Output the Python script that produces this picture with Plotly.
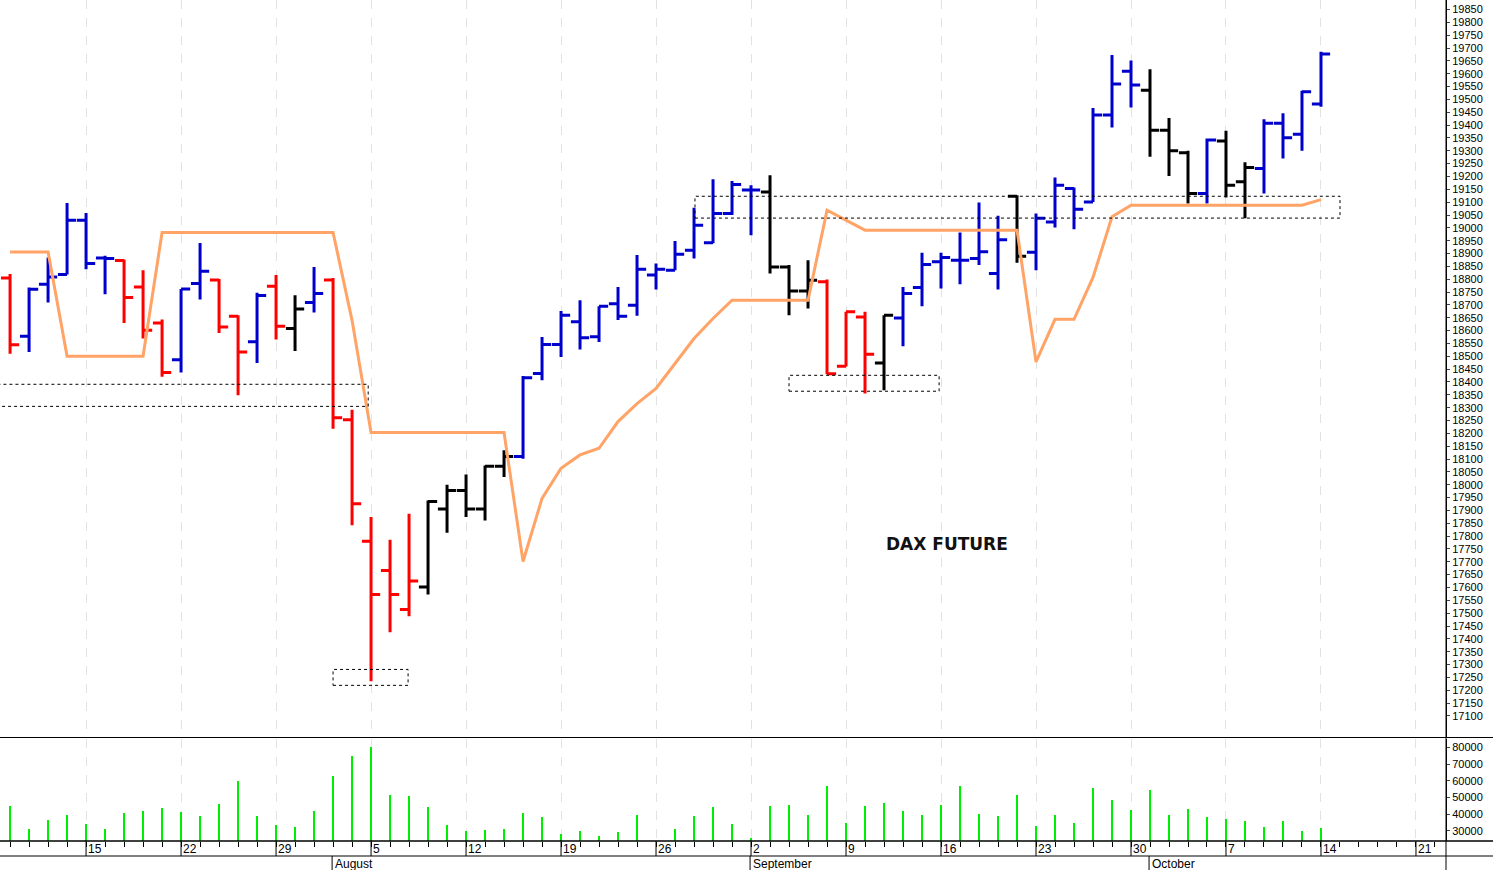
import plotly.graph_objects as go

opens  = [18805,18578,18780,18818,19030,18883,18873,18770,18630,18487,18783,18797,18656,18557,18773,18608,18709,18797,18253,17780,
          17666,17514,17602,17906,17978,17906,18072,18110,18433,18546,18634,18576,18705,18699,18816,18835,18913,18942,19056,19147,
          19140,18848,18754,18790,18461,18653,18474,18649,18768,18868,18874,18881,18822,19123,18905,19023,19153,19101,19439,19610,
          19536,19380,19292,19134,19338,19179,19231,19407,19364,19482]
highs  = [18820,18768,18885,19097,19058,18891,18877,18835,18643,18762,18941,18801,18660,18747,18816,18738,18848,18805,18292,17874,
          17786,17887,17939,18000,18040,18075,18134,18423,18575,18676,18718,18695,18770,18894,18861,18949,19078,19189,19182,19166,
          19205,18855,18874,18799,18673,18673,18660,18770,18903,18903,18982,19099,19047,19127,19056,19196,19157,19467,19673,19651,
          19617,19428,19300,19348,19378,19255,19423,19446,19534,19686]
lows   = [18510,18517,18709,18818,18839,18742,18630,18569,18420,18437,18721,18591,18348,18474,18565,18521,18670,18218,17842,17235,
          17426,17488,17573,17813,17874,17861,18030,18101,18407,18497,18526,18556,18641,18658,18760,18835,18881,18940,19050,18971,
          18822,18660,18686,18430,18460,18355,18368,18539,18695,18764,18780,18855,18760,18864,18835,19001,18995,19101,19391,19469,
          19277,19202,19095,19095,19118,19037,19134,19270,19300,19471]
closes = [18545,18761,18809,19030,18861,18881,18729,18601,18437,18762,18831,18614,18517,18737,18617,18684,18744,18261,17926,17573,
          17573,17625,17935,17978,17906,18072,18110,18416,18546,18660,18572,18695,18656,18839,18839,18897,19010,19056,19169,19147,
          18848,18754,18796,18432,18673,18508,18660,18744,18857,18885,18874,18907,18954,18889,19037,19166,19072,19439,19560,19556,
          19380,19300,19134,19342,19166,19235,19407,19351,19530,19677]
bar_colors = list("RBBBBBRRRBBRRBRKBRRR" "RRKKKKKBBBBBBBBBBBBB" "KKKRRRKBBBBBBKBBBBBB" "KKKBKKBBBB")
stop_line = [18906,18906,18906,18500,18500,18500,18500,18500,18982,18982,18982,18982,18982,18982,18982,18982,18982,18982,18640,18203,
             18203,18203,18203,18203,18203,18203,18203,17701,17947,18064,18116,18142,18246,18316,18375,18472,18569,18647,18718,18718,
             18718,18718,18718,19069,19030,18991,18991,18991,18991,18991,18991,18991,18991,18991,18478,18644,18644,18807,19043,19088,
             19088,19088,19088,19088,19088,19088,19088,19088,19088,19110]
volumes = [45000,31500,37000,40000,34500,31500,41000,42500,44000,41500,39500,46500,60000,39500,34000,32500,42500,63000,75000,80500,
           52000,51000,44500,34000,30000,31000,31500,41000,38500,28500,30000,27500,29500,40000,24500,31500,39000,44500,34500,26000,
           45500,46000,40000,57500,35000,45000,47000,42500,40000,46000,57500,40500,39000,52000,33000,40000,35000,56000,49000,43000,
           55000,40000,43500,38500,37500,36000,32500,36000,30500,32000]
price_ticks = list(range(17100, 19851, 50))
volume_ticks = [30000, 40000, 50000, 60000, 70000, 80000]
monday_idx = [4,9,14,19,24,29,34,39,44,49,54,59,64,69,74]
monday_lbl = ["15","22","29","5","12","19","26","2","9","16","23","30","7","14","21"]
month_idx = [17,39,60]
month_lbl = ["August","September","October"]

xs = list(range(len(opens)))
cmap = {"R": "#ff0000", "B": "#0000cc", "K": "#000000"}
fig = go.Figure()
for key, col in cmap.items():
    idx = [i for i in xs if bar_colors[i] == key]
    fig.add_trace(go.Ohlc(x=idx, open=[opens[i] for i in idx], high=[highs[i] for i in idx],
                          low=[lows[i] for i in idx], close=[closes[i] for i in idx], tickwidth=0.48,
                          increasing=dict(line=dict(color=col, width=3)),
                          decreasing=dict(line=dict(color=col, width=3)),
                          hoverinfo="skip", showlegend=False, xaxis="x", yaxis="y"))
fig.add_trace(go.Scatter(x=xs, y=stop_line, mode="lines", line=dict(color="#ffa366", width=3),
                         showlegend=False, xaxis="x", yaxis="y"))
fig.add_trace(go.Bar(x=xs, y=volumes, width=0.14, marker=dict(color="#00ee00", line=dict(width=0)),
                     showlegend=False, xaxis="x2", yaxis="y2"))

boxes = [(-2, 18.85, 18305, 18391), (17.0, 20.95, 17219, 17281), (41.0, 48.9, 18364, 18426), (36.05, 70.0, 19038, 19123)]
shapes = []
for x0, x1, y0, y1 in boxes:
    shapes.append(dict(type="rect", xref="x", yref="y", x0=x0, x1=x1, y0=y0, y1=y1,
                       line=dict(color="black", width=1, dash="dot")))
H = 870.0
def py(p): return (H - p) / H
shapes += [
    dict(type="line", xref="paper", yref="paper", x0=0, x1=1, y0=py(737.5), y1=py(737.5), line=dict(color="black", width=1)),
    dict(type="line", xref="paper", yref="paper", x0=0, x1=1, y0=py(841), y1=py(841), line=dict(color="black", width=1.5)),
    dict(type="line", xref="paper", yref="paper", x0=0, x1=1, y0=py(856), y1=py(856), line=dict(color="black", width=1)),
]
for m in monday_idx:
    shapes.append(dict(type="line", xref="x2", yref="paper", x0=m, x1=m, y0=py(841), y1=py(856), line=dict(color="black", width=1)))
for m in month_idx:
    shapes.append(dict(type="line", xref="x2", yref="paper", x0=m - 0.05, x1=m - 0.05, y0=py(856), y1=0, line=dict(color="black", width=1)))

ann = [dict(text="<b>DAX FUTURE</b>", x=49.3, y=17768, xref="x", yref="y", showarrow=False,
            font=dict(family="DejaVu Sans", size=17, color="#111111"))]
for m, t in zip(monday_idx, monday_lbl):
    ann.append(dict(text=t, x=m, y=py(849), xref="x2", yref="paper", xanchor="left", yanchor="middle",
                    showarrow=False, font=dict(family="Liberation Sans", size=12, color="black")))
for m, t in zip(month_idx, month_lbl):
    ann.append(dict(text=t, x=m, y=py(863.5), xref="x2", yref="paper", xanchor="left", yanchor="middle",
                    showarrow=False, font=dict(family="Liberation Sans", size=12, color="black")))

xr = [-0.53, 75.58]
fig.update_layout(
    width=1493, height=870, margin=dict(l=0, r=0, t=0, b=0), plot_bgcolor="white", paper_bgcolor="white",
    shapes=shapes, annotations=ann, bargap=0,
    xaxis=dict(domain=[0, 1446 / 1493], range=xr, tickvals=monday_idx, showticklabels=False, ticks="",
               showgrid=True, gridcolor="#e2e2e2", griddash="dash", gridwidth=1, zeroline=False,
               rangeslider=dict(visible=False), anchor="y"),
    xaxis2=dict(domain=[0, 1446 / 1493], range=xr, tickvals=monday_idx, showticklabels=False, ticks="",
                showgrid=True, gridcolor="#e2e2e2", griddash="dash", zeroline=False, anchor="y2",
                minor=dict(tick0=0, dtick=1, ticks="outside", ticklen=5, tickcolor="black", showgrid=False)),
    yaxis=dict(domain=[py(737.5), 1], range=[17016, 19887], side="right", anchor="x", tickvals=price_ticks,
               tickformat="d", showgrid=False, zeroline=False, showline=True, linecolor="black", ticks="outside", ticklen=3,
               tickfont=dict(family="Liberation Sans", size=11, color="black")),
    yaxis2=dict(domain=[py(841), py(738.5)], range=[24000, 85400], side="right", anchor="x2",
                tickvals=volume_ticks, tickformat="d",
                showgrid=False, zeroline=False, showline=True, linecolor="black", ticks="outside", ticklen=3,
                tickfont=dict(family="Liberation Sans", size=11, color="black")),
)
fig.add_shape(type="line", xref="paper", yref="paper", x0=1446/1493, x1=1446/1493, y0=0, y1=1, line=dict(color="black", width=1))
fig.write_html("out.html", config={"displayModeBar": False},
               post_script="document.body.style.margin='0';document.body.style.overflow='hidden';")
